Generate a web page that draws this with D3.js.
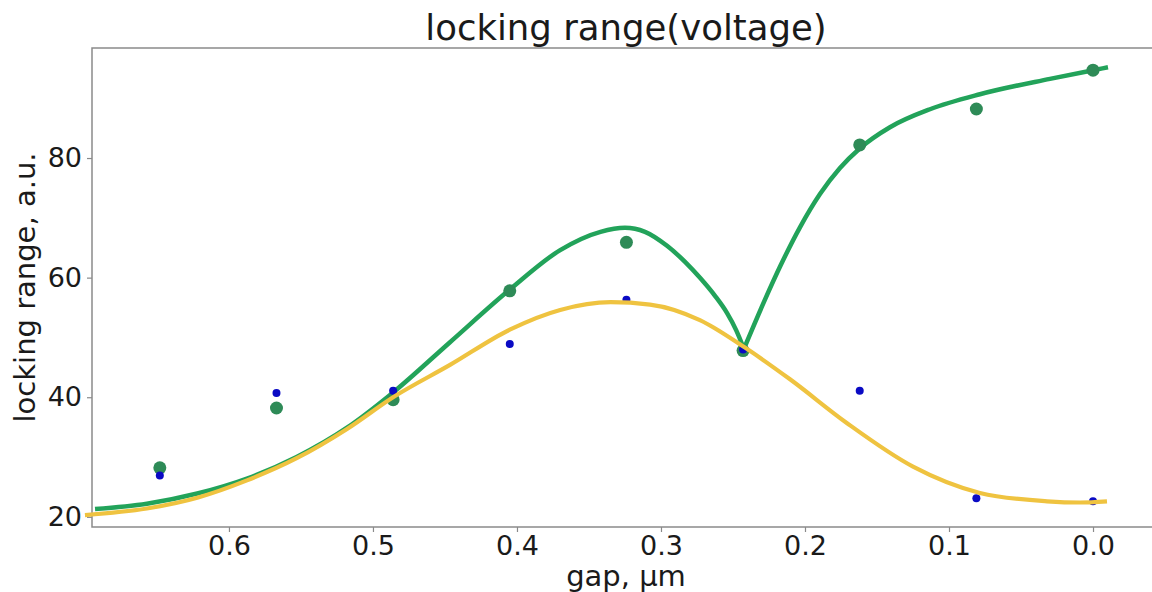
<!DOCTYPE html>
<html>
<head>
<meta charset="utf-8">
<script src="https://cdn.jsdelivr.net/npm/d3@7"></script>
<style>
  html, body { margin: 0; padding: 0; background: #fff; overflow: hidden; }
  svg { display: block; font-family: "DejaVu Sans", sans-serif; }
</style>
</head>
<body>
<svg id="chart" width="1152" height="592"></svg>
<script>
// Measured points: gap (µm) and locking range (a.u.)
const gaps = [0.648, 0.567, 0.486, 0.405, 0.324, 0.243, 0.162, 0.081, 0.0];
const lockingFull = [28.2, 38.2, 39.6, 57.8, 65.9, 47.8, 82.2, 88.2, 94.7];
const lockingPartial = [26.9, 40.7, 41.1, 48.9, 56.3, 48.0, 41.1, 23.1, 22.6];

// Fitted curve for the full series: two branches that meet at the minimum near 0.243 µm
const fitFullLeftGap = [0.693, 0.657, 0.622, 0.5875, 0.553, 0.518, 0.486, 0.4465, 0.405, 0.370, 0.342, 0.325, 0.3111, 0.2958, 0.2833, 0.2729, 0.2625, 0.2542, 0.2479, 0.2424];
const fitFullLeftVal = [21.3, 22.2, 23.9, 26.4, 30.0, 34.9, 40.8, 49.2, 58.0, 64.6, 67.66, 68.33, 67.66, 65.32, 62.64, 59.97, 56.96, 54.11, 51.27, 48.1];
const fitFullRightGap = [0.2424, 0.2278, 0.2174, 0.2035, 0.1896, 0.1757, 0.1618, 0.141, 0.1132, 0.0785, 0.0299, 0.0, -0.0104];
const fitFullRightVal = [48.1, 56.32, 61.81, 68.41, 73.98, 78.33, 81.64, 85.15, 88.16, 90.67, 93.24, 94.68, 95.17];

// Fitted curve for the partial series
const fitPartialGap = [0.700, 0.657, 0.622, 0.5875, 0.553, 0.518, 0.486, 0.4465, 0.405, 0.370, 0.335, 0.3076, 0.273, 0.2417, 0.2104, 0.171, 0.125, 0.0785, 0.032, 0.009, -0.0097];
const fitPartialVal = [20.3, 21.4, 23.2, 26.1, 29.8, 34.7, 40.0, 45.4, 51.3, 54.6, 55.9, 55.5, 52.9, 48.3, 43.0, 35.7, 28.4, 24.0, 22.6, 22.4, 22.6];

const xTicks = [0.6, 0.5, 0.4, 0.3, 0.2, 0.1, 0.0];
const yTicks = [20, 40, 60, 80];

const titleText = "locking range(voltage)";
const xLabel = "gap, μm";
const yLabel = "locking range, a.u.";

const svg = d3.select("#chart");
const plotLeft = 92, plotRight = 1180, plotTop = 48, plotBottom = 527;

// Gap axis runs from large to small values
const x = d3.scaleLinear().domain([0.6951, -0.0604]).range([plotLeft, plotRight]);
const y = d3.scaleLinear().domain([18.3, 98.4]).range([plotBottom, plotTop]);

const spineColor = "#8a8a8a";
const textColor = "#1a1a1a";

// Axes
const xAxis = svg.append("g")
  .attr("transform", `translate(0,${plotBottom})`)
  .call(d3.axisBottom(x).tickValues(xTicks).tickFormat(d3.format(".1f")).tickSize(5).tickPadding(4).tickSizeOuter(0));
const yAxis = svg.append("g")
  .attr("transform", `translate(${plotLeft},0)`)
  .call(d3.axisLeft(y).tickValues(yTicks).tickFormat(d3.format("d")).tickSize(5).tickPadding(5).tickSizeOuter(0));

[xAxis, yAxis].forEach(g => {
  g.select(".domain").remove();
  g.selectAll(".tick line").attr("stroke", spineColor).attr("stroke-width", 1.2);
  g.selectAll(".tick text").attr("fill", textColor).style("font-size", "27px").style("font-family", "DejaVu Sans");
});

// Frame: left, top and bottom spines (the right one lies past the canvas edge)
svg.append("path")
  .attr("d", `M${plotRight},${plotTop}H${plotLeft}V${plotBottom}H${plotRight}`)
  .attr("fill", "none").attr("stroke", spineColor).attr("stroke-width", 1.5);

const line = d3.line().x(d => x(d[0])).y(d => y(d[1])).curve(d3.curveMonotoneX);

const fullLeft = fitFullLeftGap.map((g, i) => [g, fitFullLeftVal[i]]);
const fullRight = fitFullRightGap.map((g, i) => [g, fitFullRightVal[i]]);
const partial = fitPartialGap.map((g, i) => [g, fitPartialVal[i]]);

const greenLine = "#22a35a";
const greenDot = "#2e8b57";
const blueDot = "#0a0ac4";
const yellowLine = "#efc340";

// Full-series fit
[fullLeft, fullRight].forEach(seg => {
  svg.append("path").datum(seg)
    .attr("d", line)
    .attr("fill", "none").attr("stroke", greenLine)
    .attr("stroke-width", 4.5).attr("stroke-linecap", "butt").attr("stroke-linejoin", "round");
});

// Full-series points
svg.append("g").selectAll("circle")
  .data(gaps.map((g, i) => [g, lockingFull[i]]))
  .join("circle")
  .attr("cx", d => x(d[0])).attr("cy", d => y(d[1]))
  .attr("r", 6.5).attr("fill", greenDot);

// Partial-series points
svg.append("g").selectAll("circle")
  .data(gaps.map((g, i) => [g, lockingPartial[i]]))
  .join("circle")
  .attr("cx", d => x(d[0])).attr("cy", d => y(d[1]))
  .attr("r", 4).attr("fill", blueDot);

// Partial-series fit
svg.append("path").datum(partial)
  .attr("d", line)
  .attr("fill", "none").attr("stroke", yellowLine)
  .attr("stroke-width", 4.2).attr("stroke-linecap", "butt");

// Title and axis labels (centred on the visible axes span)
const midX = (plotLeft + 1160) / 2;
svg.append("text")
  .attr("x", midX).attr("y", 40)
  .attr("text-anchor", "middle").attr("fill", textColor)
  .style("font-size", "35.5px")
  .text(titleText);

svg.append("text")
  .attr("x", midX).attr("y", 586)
  .attr("text-anchor", "middle").attr("fill", textColor)
  .style("font-size", "29px")
  .text(xLabel);

svg.append("text")
  .attr("transform", `translate(35,${(plotTop + plotBottom) / 2}) rotate(-90)`)
  .attr("text-anchor", "middle").attr("fill", textColor)
  .style("font-size", "29px")
  .text(yLabel);
</script>
</body>
</html>
